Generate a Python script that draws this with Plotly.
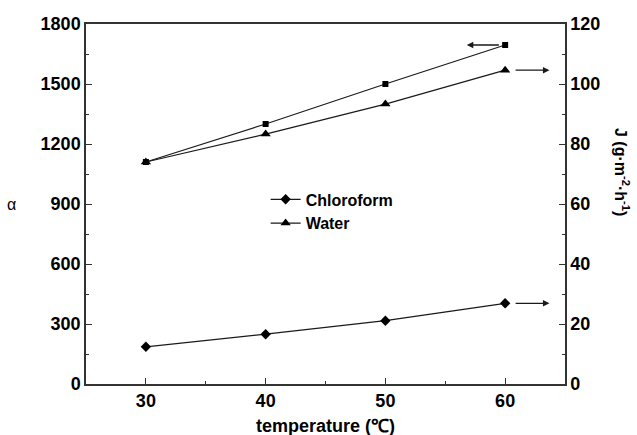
import plotly.graph_objects as go

temperature = [30, 40, 50, 60]
alpha_vals = [1110, 1300, 1500, 1695]          # left axis, squares
water_flux = [74.0, 83.3, 93.3, 104.6]         # right axis, triangles
chloroform_flux = [12.4, 16.6, 21.1, 26.9]     # right axis, diamonds

FONT = "Liberation Sans, Arial, sans-serif"
LINE = "#1a1a1a"

fig = go.Figure()
fig.add_trace(go.Scatter(x=temperature, y=alpha_vals, mode="lines+markers", showlegend=False,
                         line=dict(color=LINE, width=1.2),
                         marker=dict(symbol="square", size=6, color="black"), yaxis="y"))
fig.add_trace(go.Scatter(x=temperature, y=chloroform_flux, mode="lines+markers", name="Chloroform",
                         line=dict(color=LINE, width=1.2),
                         marker=dict(symbol="diamond", size=8, color="black"), yaxis="y2"))
fig.add_trace(go.Scatter(x=temperature, y=water_flux, mode="lines+markers", name="Water",
                         line=dict(color=LINE, width=1.2),
                         marker=dict(symbol="triangle-up", size=9, color="black"), yaxis="y2"))

tickfont = dict(family=FONT, size=18, color="black", weight="bold")
axis_common = dict(showline=True, linecolor="#333", linewidth=1.5, ticks="inside", ticklen=6,
                   tickcolor="#333", showgrid=False, zeroline=False, tickfont=tickfont)

fig.update_layout(
    width=637, height=435,
    margin=dict(l=86, r=72, t=24, b=51),
    plot_bgcolor="white", paper_bgcolor="white",
    xaxis=dict(range=[25, 65], dtick=10, tick0=0, mirror=True,
               minor=dict(ticks="inside", ticklen=3, dtick=5, tickcolor="#333"), **axis_common),
    yaxis=dict(range=[0, 1800], dtick=300, tick0=0, mirror=False,
               minor=dict(ticks="inside", ticklen=3, dtick=150, tickcolor="#333"), **axis_common),
    yaxis2=dict(range=[0, 120], dtick=20, tick0=0, overlaying="y", side="right",
                minor=dict(ticks="inside", ticklen=3, dtick=10, tickcolor="#333"), **axis_common),
    legend=dict(x=0.375, y=0.56, xanchor="left", yanchor="top", bgcolor="rgba(0,0,0,0)",
                font=dict(family=FONT, size=16, color="black", weight="bold"),
                itemwidth=30, tracegroupgap=0),
    showlegend=True,
)

annotations = []
# arrows indicating axis assignment
annotations.append(dict(x=temperature[-1] - 3.2, y=alpha_vals[-1], ax=temperature[-1] - 0.4, ay=alpha_vals[-1],
                        xref="x", yref="y", axref="x", ayref="y", showarrow=True, text="",
                        arrowhead=2, arrowsize=1, arrowwidth=1.3, arrowcolor=LINE))
for series in (water_flux, chloroform_flux):
    annotations.append(dict(x=temperature[-1] + 3.7, y=series[-1], ax=temperature[-1] + 0.75, ay=series[-1],
                            xref="x", yref="y2", axref="x", ayref="y2", showarrow=True, text="",
                            arrowhead=2, arrowsize=1, arrowwidth=1.3, arrowcolor=LINE))
# axis titles
annotations.append(dict(text="temperature (℃)", x=0.5, y=-0.118, xref="paper", yref="paper",
                        xanchor="center", yanchor="middle", showarrow=False,
                        font=dict(family=FONT, size=18, color="black", weight="bold")))
annotations.append(dict(text="α", x=-0.1545, y=0.5, xref="paper", yref="paper",
                        xanchor="center", yanchor="middle", showarrow=False,
                        font=dict(family=FONT, size=16, color="black")))
annotations.append(dict(text="J (g·m<sup>-2</sup>·h<sup>-1</sup>)", x=1.119, y=0.589, xref="paper", yref="paper",
                        xanchor="center", yanchor="middle", showarrow=False, textangle=90,
                        font=dict(family=FONT, size=16, color="black", weight="bold")))
fig.update_layout(annotations=annotations)

fig.write_html("out.html")
